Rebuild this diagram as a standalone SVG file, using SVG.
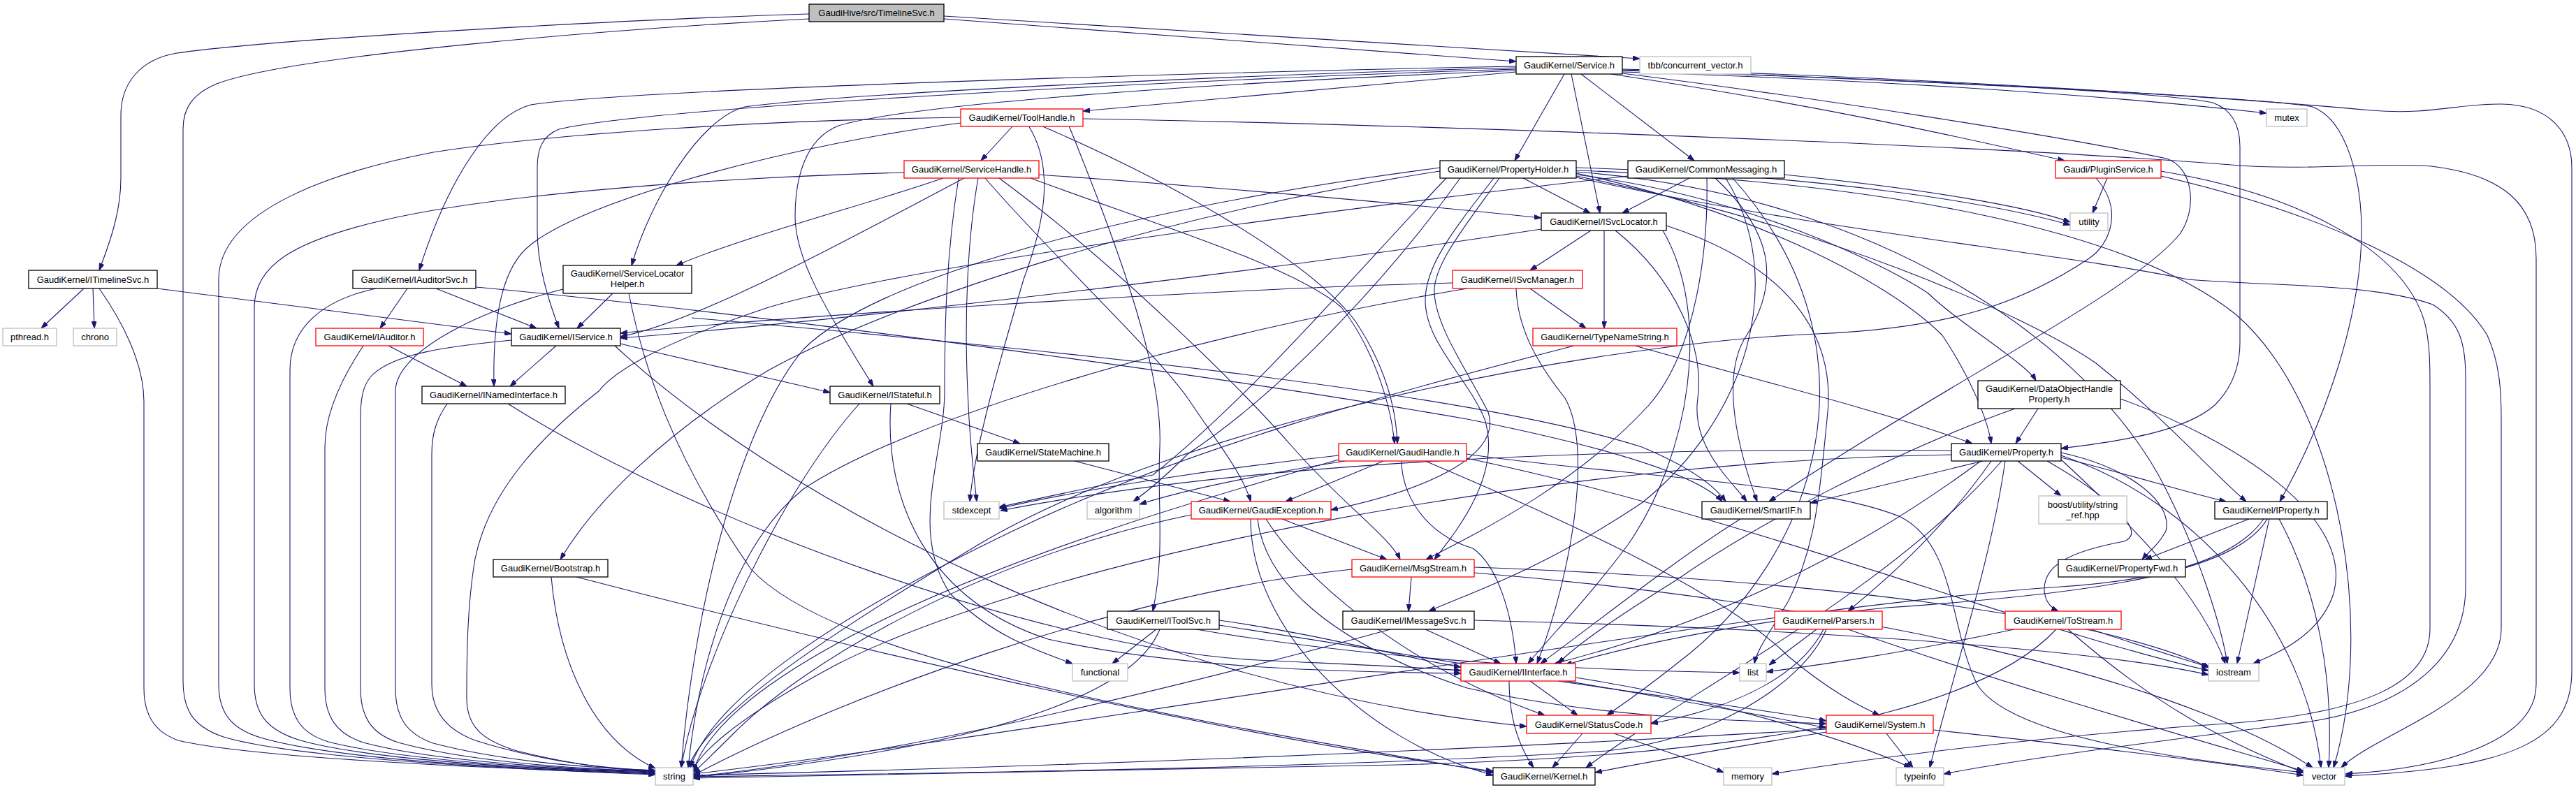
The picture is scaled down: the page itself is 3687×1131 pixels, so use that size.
<svg xmlns="http://www.w3.org/2000/svg" width="3687" height="1131" viewBox="0 0 3687 1131">
<style>
.e{fill:none;stroke:#191970;stroke-width:1.1}
.n rect{fill:#fff;stroke:#000;stroke-width:1.3}
.r rect{fill:#fff;stroke:#ff0000;stroke-width:1.3}
.x rect{fill:#fff;stroke:#bfbfbf;stroke-width:1.3}
.root rect{fill:#bfbfbf;stroke:#000;stroke-width:1.3}
text{font-family:"Liberation Sans",Arial,Helvetica,sans-serif;font-size:13px;fill:#000;text-anchor:middle}
</style>
<defs>
<marker id="a" viewBox="0 0 10 7" refX="10" refY="3.5" markerWidth="10" markerHeight="7" markerUnits="userSpaceOnUse" orient="auto"><path d="M0,0 L10,3.5 L0,7 z" fill="#191970" stroke="#191970"/></marker>
</defs>
<rect x="0" y="0" width="3687" height="1131" fill="#fff"/>
<g id="edges" class="e" marker-end="url(#a)">
<path d="M1351,27 L2170,88" marker-end="url(#a)"/>
<path d="M1351,23 L2347,84" marker-end="url(#a)"/>
<path d="M1158,20 C900,28 400,55 253,76 C200,85 173,120 173,165 L173,255 C173,300 160,340 142,387" marker-end="url(#a)"/>
<path d="M1158,27 C900,40 420,78 310,120 C275,135 262,155 262,185 L262,975 C262,1015 275,1040 320,1055 C420,1085 700,1100 938,1109" marker-end="url(#a)"/>
<path d="M120,413 L59,470" marker-end="url(#a)"/>
<path d="M133,413 L135,470" marker-end="url(#a)"/>
<path d="M142,413 C175,460 206,520 206,575 L206,985 C206,1025 222,1048 255,1060 C360,1085 700,1100 938,1108" marker-end="url(#a)"/>
<path d="M225,413 L732,478" marker-end="url(#a)"/>
<path d="M2170,103 L1550,159" marker-end="url(#a)"/>
<path d="M2170,95 C1700,104 900,128 760,150 C700,165 640,260 600,387" marker-end="url(#a)"/>
<path d="M2170,97 C1800,106 1200,134 1066,153 C1000,170 930,290 904,380" marker-end="url(#a)"/>
<path d="M2170,99 C1800,110 950,150 800,185 C775,195 769,215 769,240 L769,330 C769,380 785,430 800,470" marker-end="url(#a)"/>
<path d="M2170,101 C1700,120 1300,150 1200,180 C1150,200 1138,260 1138,310 C1138,370 1180,440 1250,553" marker-end="url(#a)"/>
<path d="M2239,106 L2168,230" marker-end="url(#a)"/>
<path d="M2249,106 L2290,305" marker-end="url(#a)"/>
<path d="M2263,106 L2425,230" marker-end="url(#a)"/>
<path d="M2306,106 C2600,150 2800,195 2955,230" marker-end="url(#a)"/>
<path d="M2322,103 C2700,115 3000,135 3244,162" marker-end="url(#a)"/>
<path d="M2322,99 C2700,108 3200,140 3394,158 C3480,165 3520,148 3580,149 C3650,150 3681,190 3681,240 L3681,960 C3681,1060 3600,1100 3356,1111" marker-end="url(#a)"/>
<path d="M2322,101 C2700,112 3100,132 3167,147 C3195,157 3206,180 3206,210 L3206,490 C3206,530 3190,560 3170,580 C3130,615 3050,630 2950,642" marker-end="url(#a)"/>
<path d="M2322,100 C2800,118 3250,140 3310,153 C3360,172 3380,260 3380,330 C3380,450 3330,600 3263,718" marker-end="url(#a)"/>
<path d="M2322,105 C2600,140 2950,195 3101,227 C3140,240 3145,300 3120,335 C3050,420 2800,540 2532,718" marker-end="url(#a)"/>
<path d="M1450,180 L1404,230" marker-end="url(#a)"/>
<path d="M1375,168 C1100,172 800,190 620,218 C480,245 313,300 313,400 L313,980 C313,1020 330,1045 380,1058 C480,1085 700,1100 938,1107" marker-end="url(#a)"/>
<path d="M1472,180 C1510,240 1495,320 1465,400 C1430,520 1395,640 1388,718" marker-end="url(#a)"/>
<path d="M1490,180 C1700,270 1880,380 1940,460 C1980,520 1998,580 2000,635" marker-end="url(#a)"/>
<path d="M1375,176 C1150,205 850,280 760,350 C720,380 705,450 707,553" marker-end="url(#a)"/>
<path d="M1550,170 C2000,178 2800,205 3193,236 C3300,245 3400,232 3480,238 C3580,250 3630,290 3630,370 L3630,980 C3630,1060 3500,1100 3357,1108" marker-end="url(#a)"/>
<path d="M1530,180 C1590,330 1665,520 1660,640 C1656,720 1668,790 1650,875" marker-end="url(#a)"/>
<path d="M1294,247 C1000,255 700,280 550,315 C420,345 364,380 364,440 L364,980 C364,1020 380,1045 430,1060 C520,1085 720,1100 938,1106" marker-end="url(#a)"/>
<path d="M1350,255 C1250,290 1060,340 968,380" marker-end="url(#a)"/>
<path d="M1380,255 C1200,350 1000,460 888,482" marker-end="url(#a)"/>
<path d="M1372,255 C1355,360 1352,460 1352,560 C1352,650 1300,760 1360,850 C1420,910 1480,930 1535,950" marker-end="url(#a)"/>
<path d="M1400,255 C1385,340 1380,450 1385,560 C1388,640 1395,690 1398,718" marker-end="url(#a)"/>
<path d="M1410,255 C1500,360 1650,500 1700,570 C1740,630 1780,680 1790,718" marker-end="url(#a)"/>
<path d="M1430,255 C1600,380 1780,560 1850,640 C1920,720 1990,770 2004,801" marker-end="url(#a)"/>
<path d="M1487,250 C1700,265 2000,290 2206,312" marker-end="url(#a)"/>
<path d="M1475,255 C1650,320 1850,380 1920,440 C1960,490 1990,570 1996,635" marker-end="url(#a)"/>
<path d="M583,413 L544,470" marker-end="url(#a)"/>
<path d="M624,413 L768,470" marker-end="url(#a)"/>
<path d="M538,413 C460,430 415,470 415,530 L415,985 C415,1025 430,1050 470,1062 C560,1085 740,1100 938,1105" marker-end="url(#a)"/>
<path d="M681,411 C1000,440 1700,530 2100,600 C2300,640 2430,680 2465,718" marker-end="url(#a)"/>
<path d="M556,495 L668,553" marker-end="url(#a)"/>
<path d="M520,495 C490,540 465,590 465,640 L465,985 C465,1025 480,1050 520,1063 C600,1085 760,1100 938,1104" marker-end="url(#a)"/>
<path d="M877,420 L826,470" marker-end="url(#a)"/>
<path d="M806,414 C700,440 566,500 566,560 L566,985 C566,1025 580,1050 620,1064 C700,1085 800,1098 938,1103" marker-end="url(#a)"/>
<path d="M900,420 C920,520 960,650 1075,815 C1200,950 1700,1030 2137,1106" marker-end="url(#a)"/>
<path d="M990,455 C1500,500 2100,560 2350,640 C2410,665 2450,690 2470,718" marker-end="url(#a)"/>
<path d="M796,495 L730,553" marker-end="url(#a)"/>
<path d="M732,487 C650,495 560,505 530,540 C518,555 516,575 516,600 L516,985 C516,1025 530,1050 570,1063 C650,1085 780,1100 938,1104" marker-end="url(#a)"/>
<path d="M888,492 C1000,520 1120,545 1188,562" marker-end="url(#a)"/>
<path d="M880,495 C1100,700 1600,980 2185,1040" marker-end="url(#a)"/>
<path d="M640,578 C625,600 618,620 618,650 L618,980 C618,1020 640,1045 680,1060 C760,1085 850,1100 938,1103" marker-end="url(#a)"/>
<path d="M727,578 C1000,750 1500,930 1800,945 C1950,952 2030,955 2091,960" marker-end="url(#a)"/>
<path d="M1298,578 L1460,635" marker-end="url(#a)"/>
<path d="M1230,578 C1120,700 1000,950 975,1099" marker-end="url(#a)"/>
<path d="M1275,578 C1265,720 1330,860 1500,915 C1700,960 1950,962 2091,964" marker-end="url(#a)"/>
<path d="M1538,660 L1761,718" marker-end="url(#a)"/>
<path d="M2146,255 C2100,320 2050,380 2053,420 C2056,470 2100,530 2130,590 C2150,650 2050,700 1905,730" marker-end="url(#a)"/>
<path d="M2138,255 C2080,330 2040,380 2040,430 C2040,490 2100,540 2125,600 C2150,680 2085,760 2053,801" marker-end="url(#a)"/>
<path d="M2180,255 L2276,305" marker-end="url(#a)"/>
<path d="M2256,248 C2500,300 2700,400 2780,480 C2820,540 2845,600 2850,635" marker-end="url(#a)"/>
<path d="M2256,252 C2600,320 2900,450 3000,520 C3100,600 3170,680 3215,718" marker-end="url(#a)"/>
<path d="M2256,250 C2500,280 2700,380 2760,420 C2800,460 2900,520 2914,545" marker-end="url(#a)"/>
<path d="M2061,245 C1700,300 1300,420 1100,530 C950,620 850,720 802,801" marker-end="url(#a)"/>
<path d="M2256,240 C2600,250 2850,290 2963,322" marker-end="url(#a)"/>
<path d="M2070,255 C1950,380 1800,560 1650,680 C1550,700 1480,715 1430,726" marker-end="url(#a)"/>
<path d="M2090,255 C2000,380 1850,550 1700,650 C1670,680 1640,705 1622,718" marker-end="url(#a)"/>
<path d="M2256,246 C2700,280 3000,500 3100,700 C3150,800 3180,900 3188,950" marker-end="url(#a)"/>
<path d="M2256,244 C2700,260 3050,330 3200,450 C3350,580 3400,900 3340,1099" marker-end="url(#a)"/>
<path d="M2061,240 C1600,300 1250,400 1150,500 C1050,620 990,900 975,1099" marker-end="url(#a)"/>
<path d="M2256,254 C2600,330 2950,362 3131,400 C3250,410 3394,405 3482,436 C3520,460 3529,490 3529,540 L3529,840 C3529,940 3450,1010 3307,1033 C3100,1060 2900,1085 2782,1108" marker-end="url(#a)"/>
<path d="M2418,255 L2322,305" marker-end="url(#a)"/>
<path d="M2455,255 C2535,330 2550,400 2500,480 C2460,540 2490,650 2515,718" marker-end="url(#a)"/>
<path d="M2443,255 C2445,350 2430,500 2360,580 C2250,700 2100,770 2041,801" marker-end="url(#a)"/>
<path d="M2470,255 C2560,400 2500,600 2350,720 C2200,820 2100,850 2045,875" marker-end="url(#a)"/>
<path d="M2554,250 C2750,270 2900,295 2963,318" marker-end="url(#a)"/>
<path d="M2480,255 C2700,500 2600,800 2400,950 C2350,990 2320,1010 2300,1024" marker-end="url(#a)"/>
<path d="M2330,252 C1900,300 1300,380 1100,440 C950,490 880,530 857,560 C780,620 700,700 680,800 C668,870 668,950 668,1000 C668,1040 690,1060 740,1075 C820,1095 880,1102 938,1104" marker-end="url(#a)"/>
<path d="M2277,330 L2190,387" marker-end="url(#a)"/>
<path d="M2296,330 L2296,470" marker-end="url(#a)"/>
<path d="M2312,330 C2400,400 2440,500 2430,570 C2420,640 2480,690 2500,718" marker-end="url(#a)"/>
<path d="M2380,330 C2450,450 2420,650 2330,780 C2270,860 2220,910 2187,950" marker-end="url(#a)"/>
<path d="M2385,323 C2560,380 2630,480 2615,600 C2605,700 2600,780 2560,860 C2530,910 2515,930 2511,950" marker-end="url(#a)"/>
<path d="M2206,328 C1800,390 1200,460 888,484" marker-end="url(#a)"/>
<path d="M2190,413 L2270,470" marker-end="url(#a)"/>
<path d="M2079,405 C1700,415 1100,455 888,477" marker-end="url(#a)"/>
<path d="M2100,413 C1700,480 1300,600 1150,700 C1050,780 1000,950 985,1099" marker-end="url(#a)"/>
<path d="M2170,413 C2172,470 2200,520 2240,570 C2280,640 2250,820 2200,950" marker-end="url(#a)"/>
<path d="M2253,495 C2000,560 1700,640 1450,760 C1200,880 1020,1000 988,1099" marker-end="url(#a)"/>
<path d="M2340,495 C2500,540 2700,590 2823,635" marker-end="url(#a)"/>
<path d="M1980,660 L1840,718" marker-end="url(#a)"/>
<path d="M1916,652 C1750,670 1550,700 1430,728" marker-end="url(#a)"/>
<path d="M1925,660 C1800,680 1700,700 1631,722" marker-end="url(#a)"/>
<path d="M2006,660 C2006,705 2037,764 2108,785 C2144,810 2165,880 2170,950" marker-end="url(#a)"/>
<path d="M2040,660 C2300,770 2480,860 2560,940 C2620,990 2660,1010 2690,1024" marker-end="url(#a)"/>
<path d="M1916,658 C1700,720 1500,780 1300,870 C1150,940 1020,1020 992,1104" marker-end="url(#a)"/>
<path d="M2099,650 C2300,680 2600,690 2720,740 C2800,780 2790,900 2830,980 C2880,1060 3150,1090 3297,1106" marker-end="url(#a)"/>
<path d="M2099,656 C2500,740 2900,900 3161,960" marker-end="url(#a)"/>
<path d="M1835,743 L1985,801" marker-end="url(#a)"/>
<path d="M1812,743 C1860,820 2000,950 2211,1024" marker-end="url(#a)"/>
<path d="M1800,743 C1810,830 1900,920 2100,985 C2300,1030 2500,1032 2614,1036" marker-end="url(#a)"/>
<path d="M1705,737 C1400,800 1150,950 1050,1050 C1020,1080 1005,1095 992,1106" marker-end="url(#a)"/>
<path d="M1790,743 C1790,900 1950,1060 2137,1110" marker-end="url(#a)"/>
<path d="M2020,826 L2016,875" marker-end="url(#a)"/>
<path d="M1935,815 C1600,850 1200,1000 992,1110" marker-end="url(#a)"/>
<path d="M2110,812 C2600,830 3000,880 3163,956" marker-end="url(#a)"/>
<path d="M2110,820 C2600,860 3100,960 3310,1099" marker-end="url(#a)"/>
<path d="M2040,901 L2148,950" marker-end="url(#a)"/>
<path d="M1990,901 C1700,980 1300,1080 992,1112" marker-end="url(#a)"/>
<path d="M2110,888 C2600,900 3000,930 3161,966" marker-end="url(#a)"/>
<path d="M1655,901 L1592,950" marker-end="url(#a)"/>
<path d="M1745,888 C1900,910 2000,940 2091,955" marker-end="url(#a)"/>
<path d="M1660,901 C1620,1000 1400,1070 992,1113" marker-end="url(#a)"/>
<path d="M1745,895 C2100,950 2400,1000 2614,1042" marker-end="url(#a)"/>
<path d="M1712,901 C2000,950 2300,960 2490,963" marker-end="url(#a)"/>
<path d="M2190,975 L2258,1024" marker-end="url(#a)"/>
<path d="M2160,975 C2160,1030 2175,1070 2195,1099" marker-end="url(#a)"/>
<path d="M2230,975 C2400,1000 2550,1020 2614,1032" marker-end="url(#a)"/>
<path d="M2255,970 C2450,1000 2650,1060 2735,1099" marker-end="url(#a)"/>
<path d="M2265,1050 L2222,1099" marker-end="url(#a)"/>
<path d="M2310,1050 C2380,1075 2430,1090 2467,1106" marker-end="url(#a)"/>
<path d="M2700,1050 L2738,1099" marker-end="url(#a)"/>
<path d="M2614,1048 C2480,1070 2360,1090 2283,1106" marker-end="url(#a)"/>
<path d="M2614,1044 C2000,1080 1400,1100 992,1110" marker-end="url(#a)"/>
<path d="M2767,1045 C3000,1070 3200,1095 3297,1110" marker-end="url(#a)"/>
<path d="M2838,660 L2591,720" marker-end="url(#a)"/>
<path d="M2850,660 C2780,760 2700,830 2645,875" marker-end="url(#a)"/>
<path d="M2870,660 C2850,800 2800,950 2762,1099" marker-end="url(#a)"/>
<path d="M2888,660 L2950,710" marker-end="url(#a)"/>
<path d="M2950,655 C3050,680 3130,705 3186,718" marker-end="url(#a)"/>
<path d="M2950,648 C3050,670 3110,720 3100,760 C3090,780 3075,790 3066,801" marker-end="url(#a)"/>
<path d="M2930,660 C3000,700 3080,760 3040,775 C2960,790 2925,810 2926,845 C2927,860 2935,870 2946,875" marker-end="url(#a)"/>
<path d="M2793,651 C2200,660 1500,800 1200,950 C1050,1030 1000,1080 992,1104" marker-end="url(#a)"/>
<path d="M2793,645 C2300,640 1800,660 1432,731" marker-end="url(#a)"/>
<path d="M2835,660 C2700,760 2500,880 2225,950" marker-end="url(#a)"/>
<path d="M2865,660 C2700,850 2400,1000 2270,1099" marker-end="url(#a)"/>
<path d="M2950,658 C3050,750 3150,850 3185,950" marker-end="url(#a)"/>
<path d="M2950,652 C3150,720 3300,900 3322,1099" marker-end="url(#a)"/>
<path d="M3219,743 L3070,801" marker-end="url(#a)"/>
<path d="M3248,743 L3202,950" marker-end="url(#a)"/>
<path d="M3262,743 C3320,850 3340,980 3333,1099" marker-end="url(#a)"/>
<path d="M3240,743 C3200,800 3100,830 2950,840 C2500,870 1500,1050 992,1108" marker-end="url(#a)"/>
<path d="M3245,743 C3200,820 3000,850 2700,870 C2500,890 2350,920 2240,952" marker-end="url(#a)"/>
<path d="M2917,585 L2885,635" marker-end="url(#a)"/>
<path d="M3035,571 C3200,630 3370,740 3340,850 C3320,910 3260,935 3225,950" marker-end="url(#a)"/>
<path d="M2884,585 C2700,650 2500,760 2400,830 C2320,880 2260,920 2230,950" marker-end="url(#a)"/>
<path d="M2600,901 L2532,952" marker-end="url(#a)"/>
<path d="M2610,901 C2580,960 2500,1010 2363,1036" marker-end="url(#a)"/>
<path d="M2614,901 C2580,980 2450,1060 2300,1075 C1900,1100 1400,1106 992,1112" marker-end="url(#a)"/>
<path d="M2645,901 C2900,990 3150,1060 3297,1104" marker-end="url(#a)"/>
<path d="M2883,901 C2700,940 2580,955 2528,962" marker-end="url(#a)"/>
<path d="M2943,901 C2850,1000 2600,1080 2000,1095 C1600,1104 1200,1110 992,1114" marker-end="url(#a)"/>
<path d="M2960,901 C3050,980 3150,1050 3297,1106" marker-end="url(#a)"/>
<path d="M2993,901 C3080,930 3130,945 3161,955" marker-end="url(#a)"/>
<path d="M789,826 C800,950 850,1060 938,1100" marker-end="url(#a)"/>
<path d="M825,826 C1300,950 1800,1060 2137,1104" marker-end="url(#a)"/>
<path d="M2491,743 C2400,800 2300,880 2205,950" marker-end="url(#a)"/>
<path d="M3016,255 L2995,305" marker-end="url(#a)"/>
<path d="M3000,255 C3040,300 3020,350 2990,370 C2900,430 2800,470 2600,478 C2300,490 1700,600 1400,780 C1150,930 1010,1030 985,1099" marker-end="url(#a)"/>
<path d="M3093,245 C3300,280 3440,360 3470,460 C3478,490 3478,520 3478,560 L3478,900 C3478,980 3380,1020 3200,1035 C2900,1055 2650,1090 2536,1108" marker-end="url(#a)"/>
<path d="M3093,252 C3300,300 3500,380 3560,480 C3578,520 3580,560 3580,600 L3580,900 C3580,1000 3400,1050 3351,1099" marker-end="url(#a)"/>
</g>
<g id="n_root" class="root"><rect x="1158" y="6" width="193" height="25"/><text x="1254.5" y="23">GaudiHive/src/TimelineSvc.h</text></g>
<g id="n_service" class="n"><rect x="2170" y="81" width="152" height="25"/><text x="2246" y="98">GaudiKernel/Service.h</text></g>
<g id="n_tbb" class="x"><rect x="2347" y="81" width="159" height="25"/><text x="2426.5" y="98">tbb/concurrent_vector.h</text></g>
<g id="n_toolhandle" class="r"><rect x="1375" y="156" width="175" height="25"/><text x="1462.5" y="173">GaudiKernel/ToolHandle.h</text></g>
<g id="n_mutex" class="x"><rect x="3244" y="156" width="58" height="25"/><text x="3273" y="173">mutex</text></g>
<g id="n_servicehandle" class="r"><rect x="1294" y="230" width="193" height="25"/><text x="1390.5" y="247">GaudiKernel/ServiceHandle.h</text></g>
<g id="n_propertyholder" class="n"><rect x="2061" y="230" width="195" height="25"/><text x="2158.5" y="247">GaudiKernel/PropertyHolder.h</text></g>
<g id="n_commonmessaging" class="n"><rect x="2330" y="230" width="224" height="25"/><text x="2442" y="247">GaudiKernel/CommonMessaging.h</text></g>
<g id="n_pluginservice" class="r"><rect x="2942" y="230" width="151" height="25"/><text x="3017.5" y="247">Gaudi/PluginService.h</text></g>
<g id="n_isvclocator" class="n"><rect x="2206" y="305" width="179" height="25"/><text x="2295.5" y="322">GaudiKernel/ISvcLocator.h</text></g>
<g id="n_utility" class="x"><rect x="2963" y="305" width="54" height="25"/><text x="2990" y="322">utility</text></g>
<g id="n_itimelinesvc" class="n"><rect x="41" y="387" width="184" height="26"/><text x="133" y="404.5">GaudiKernel/ITimelineSvc.h</text></g>
<g id="n_iauditorsvc" class="n"><rect x="505" y="387" width="176" height="26"/><text x="593" y="404.5">GaudiKernel/IAuditorSvc.h</text></g>
<g id="n_isvcmanager" class="r"><rect x="2079" y="387" width="186" height="26"/><text x="2172" y="404.5">GaudiKernel/ISvcManager.h</text></g>
<g id="n_servicelocatorhelper" class="n"><rect x="806" y="380" width="184" height="40"/><text x="898" y="396">GaudiKernel/ServiceLocator</text><text x="898" y="411">Helper.h</text></g>
<g id="n_pthread" class="x"><rect x="4" y="470" width="77" height="25"/><text x="42.5" y="487">pthread.h</text></g>
<g id="n_chrono" class="x"><rect x="105" y="470" width="62" height="25"/><text x="136" y="487">chrono</text></g>
<g id="n_iauditor" class="r"><rect x="452" y="470" width="154" height="25"/><text x="529" y="487">GaudiKernel/IAuditor.h</text></g>
<g id="n_iservice" class="n"><rect x="732" y="470" width="156" height="25"/><text x="810" y="487">GaudiKernel/IService.h</text></g>
<g id="n_typenamestring" class="r"><rect x="2194" y="470" width="206" height="25"/><text x="2297" y="487">GaudiKernel/TypeNameString.h</text></g>
<g id="n_inamedinterface" class="n"><rect x="604" y="553" width="205" height="25"/><text x="706.5" y="570">GaudiKernel/INamedInterface.h</text></g>
<g id="n_istateful" class="n"><rect x="1188" y="553" width="157" height="25"/><text x="1266.5" y="570">GaudiKernel/IStateful.h</text></g>
<g id="n_dataobjecthandleproperty" class="n"><rect x="2831" y="545" width="204" height="40"/><text x="2933" y="561">GaudiKernel/DataObjectHandle</text><text x="2933" y="576">Property.h</text></g>
<g id="n_statemachine" class="n"><rect x="1399" y="635" width="188" height="25"/><text x="1493" y="652">GaudiKernel/StateMachine.h</text></g>
<g id="n_gaudihandle" class="r"><rect x="1916" y="635" width="183" height="25"/><text x="2007.5" y="652">GaudiKernel/GaudiHandle.h</text></g>
<g id="n_property" class="n"><rect x="2793" y="635" width="157" height="25"/><text x="2871.5" y="652">GaudiKernel/Property.h</text></g>
<g id="n_stdexcept" class="x"><rect x="1351" y="718" width="79" height="25"/><text x="1390.5" y="735">stdexcept</text></g>
<g id="n_algorithm" class="x"><rect x="1556" y="718" width="75" height="25"/><text x="1593.5" y="735">algorithm</text></g>
<g id="n_gaudiexception" class="r"><rect x="1705" y="718" width="200" height="25"/><text x="1805" y="735">GaudiKernel/GaudiException.h</text></g>
<g id="n_smartif" class="n"><rect x="2436" y="718" width="155" height="25"/><text x="2513.5" y="735">GaudiKernel/SmartIF.h</text></g>
<g id="n_boost" class="x"><rect x="2918" y="710" width="126" height="40"/><text x="2981" y="727">boost/utility/string</text><text x="2981" y="742">_ref.hpp</text></g>
<g id="n_iproperty" class="n"><rect x="3170" y="718" width="161" height="25"/><text x="3250.5" y="735">GaudiKernel/IProperty.h</text></g>
<g id="n_bootstrap" class="n"><rect x="706" y="801" width="164" height="25"/><text x="788" y="818">GaudiKernel/Bootstrap.h</text></g>
<g id="n_msgstream" class="r"><rect x="1935" y="801" width="175" height="25"/><text x="2022.5" y="818">GaudiKernel/MsgStream.h</text></g>
<g id="n_propertyfwd" class="n"><rect x="2946" y="801" width="182" height="25"/><text x="3037" y="818">GaudiKernel/PropertyFwd.h</text></g>
<g id="n_itoolsvc" class="n"><rect x="1585" y="875" width="160" height="26"/><text x="1665" y="892.5">GaudiKernel/IToolSvc.h</text></g>
<g id="n_imessagesvc" class="n"><rect x="1922" y="875" width="188" height="26"/><text x="2016" y="892.5">GaudiKernel/IMessageSvc.h</text></g>
<g id="n_parsers" class="r"><rect x="2540" y="875" width="154" height="26"/><text x="2617" y="892.5">GaudiKernel/Parsers.h</text></g>
<g id="n_tostream" class="r"><rect x="2870" y="875" width="166" height="26"/><text x="2953" y="892.5">GaudiKernel/ToStream.h</text></g>
<g id="n_functional" class="x"><rect x="1535" y="950" width="79" height="25"/><text x="1574.5" y="967">functional</text></g>
<g id="n_iinterface" class="r"><rect x="2091" y="950" width="164" height="25"/><text x="2173" y="967">GaudiKernel/IInterface.h</text></g>
<g id="n_list" class="x"><rect x="2490" y="950" width="38" height="25"/><text x="2509" y="967">list</text></g>
<g id="n_iostream" class="x"><rect x="3161" y="950" width="72" height="25"/><text x="3197" y="967">iostream</text></g>
<g id="n_statuscode" class="r"><rect x="2185" y="1024" width="178" height="26"/><text x="2274" y="1041.5">GaudiKernel/StatusCode.h</text></g>
<g id="n_system" class="r"><rect x="2614" y="1024" width="153" height="26"/><text x="2690.5" y="1041.5">GaudiKernel/System.h</text></g>
<g id="n_string" class="x"><rect x="938" y="1099" width="54" height="25"/><text x="965" y="1116">string</text></g>
<g id="n_kernel" class="n"><rect x="2137" y="1099" width="146" height="25"/><text x="2210" y="1116">GaudiKernel/Kernel.h</text></g>
<g id="n_memory" class="x"><rect x="2467" y="1099" width="69" height="25"/><text x="2501.5" y="1116">memory</text></g>
<g id="n_typeinfo" class="x"><rect x="2714" y="1099" width="68" height="25"/><text x="2748" y="1116">typeinfo</text></g>
<g id="n_vector" class="x"><rect x="3297" y="1099" width="59" height="25"/><text x="3326.5" y="1116">vector</text></g>
</svg>
